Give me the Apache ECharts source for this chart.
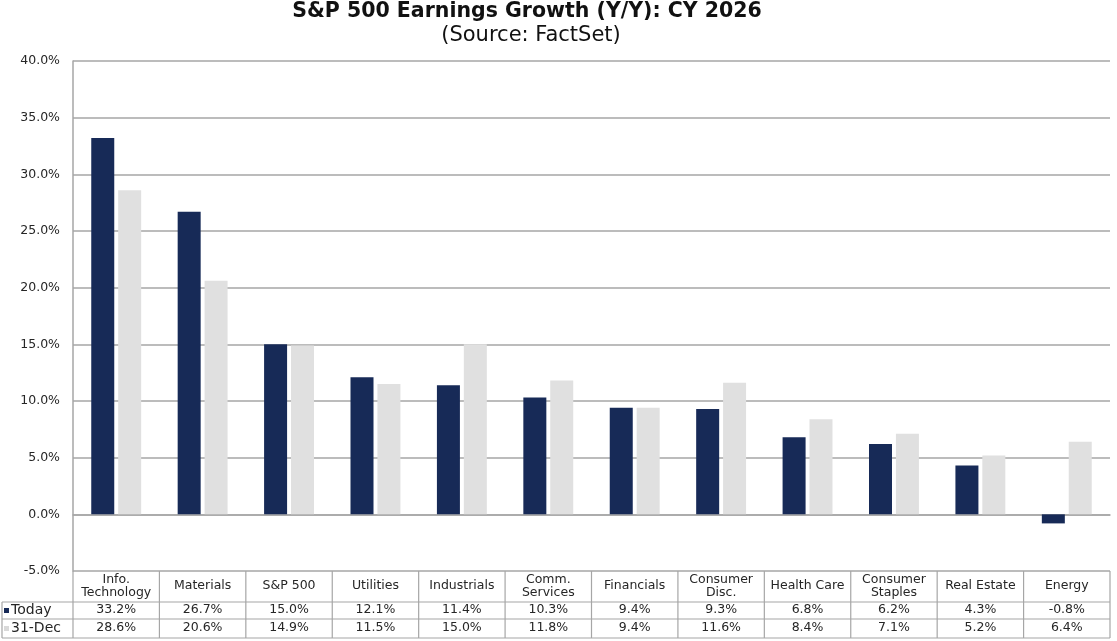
<!DOCTYPE html>
<html><head><meta charset="utf-8">
<script src="https://cdn.jsdelivr.net/npm/echarts@6/dist/echarts.min.js"></script>
<style>html,body{margin:0;padding:0;background:#fff}#c{width:1117px;height:641px}</style>
</head><body><div id="c"></div>
<script>
var categories = ['Info.\nTechnology','Materials','S&P 500','Utilities','Industrials','Comm.\nServices','Financials','Consumer\nDisc.','Health Care','Consumer\nStaples','Real Estate','Energy'];
var todayValues = [33.2, 26.7, 15.0, 12.1, 11.4, 10.3, 9.4, 9.3, 6.8, 6.2, 4.3, -0.8];
var decValues = [28.6, 20.6, 14.9, 11.5, 15.0, 11.8, 9.4, 11.6, 8.4, 7.1, 5.2, 6.4];
var seriesNames = ['Today', '31-Dec'];
var titleText = 'S&P 500 Earnings Growth (Y/Y): CY 2026';
var subtitleText = '(Source: FactSet)';
var yTicks = {min: -5, max: 40, interval: 5};

var NAVY = '#172a57', GRAY = '#e0e0e0', LINE = '#a6a6a6', TXT = '#262626';
var FONT = 'DejaVu Sans, Verdana, sans-serif';
var chart = echarts.init(document.getElementById('c'));
var G = {left: 73, right: 7, top: 61, bottom: 70};

function valAxis(vals, margin) {
  return {
    type: 'category', data: categories, position: 'bottom', gridIndex: 0,
    axisLine: {show: false}, axisTick: {show: false},
    axisLabel: {interval: 0, margin: margin, verticalAlign: 'middle', fontSize: 12.5, color: TXT, fontFamily: FONT,
      formatter: function (v, i) { return vals[i].toFixed(1) + '%'; }}
  };
}

chart.setOption({
  animation: false,
  grid: G,
  xAxis: [
    {
      type: 'category', data: categories, position: 'bottom',
      axisLine: {show: true, lineStyle: {color: LINE, width: 1.5}},
      axisTick: {show: false},
      axisLabel: {interval: 0, margin: 15, verticalAlign: 'middle', fontSize: 12.5, lineHeight: 13, color: TXT, fontFamily: FONT}
    },
    valAxis(todayValues, 39),
    valAxis(decValues, 57)
  ],
  yAxis: {
    type: 'value', min: yTicks.min, max: yTicks.max, interval: yTicks.interval,
    axisLine: {show: true, lineStyle: {color: LINE, width: 1.5}},
    axisTick: {show: false},
    splitLine: {lineStyle: {color: LINE, width: 1.5}},
    axisLabel: {margin: 13, fontSize: 12.5, color: TXT, fontFamily: FONT,
      formatter: function (v) { return v.toFixed(1) + '%'; }}
  },
  series: [
    {name: seriesNames[0], type: 'bar', data: todayValues, barWidth: 23, barGap: '17%', itemStyle: {color: NAVY}},
    {name: seriesNames[1], type: 'bar', data: decValues, barWidth: 23, itemStyle: {color: GRAY}}
  ]
});

// title + data-table frame
(function () {
  var n = categories.length;
  var x0 = chart.convertToPixel({xAxisIndex: 0}, 0);
  var x1 = chart.convertToPixel({xAxisIndex: 0}, 1);
  var band = x1 - x0;
  var left = x0 - band / 2, right = left + band * n;
  var top = chart.convertToPixel({yAxisIndex: 0}, yTicks.min);
  var r1 = top + 31, r2 = top + 48, bot = top + 67, outerL = 2;
  var els = [];
  els.push({type: 'text', x: 527, y: 12, style: {text: titleText, fontSize: 20.5, fontWeight: 'bold', fill: '#111', fontFamily: FONT, align: 'center', verticalAlign: 'middle'}, silent: true});
  els.push({type: 'text', x: 531, y: 36, style: {text: subtitleText, fontSize: 21, fill: '#111', fontFamily: FONT, align: 'center', verticalAlign: 'middle'}, silent: true});
  var ls = {stroke: LINE, lineWidth: 1.2};
  function ln(a, b, c, d) { els.push({type: 'line', shape: {x1: a, y1: b, x2: c, y2: d}, style: ls, silent: true}); }
  for (var i = 0; i <= n; i++) ln(left + i * band, top, left + i * band, bot);
  ln(outerL, r1, right, r1);
  ln(outerL, r2, right, r2);
  ln(outerL, bot, right, bot);
  ln(outerL, r1, outerL, bot);
  var rows = [[r1, r2, NAVY], [r2, bot, '#d9d9d9']];
  rows.forEach(function (r, k) {
    var cy = (r[0] + r[1]) / 2;
    els.push({type: 'rect', shape: {x: 4, y: cy - 2.5, width: 5, height: 5}, style: {fill: r[2]}, silent: true});
    els.push({type: 'text', x: 11, y: cy, style: {text: seriesNames[k], fontSize: 14, fill: TXT, fontFamily: FONT, verticalAlign: 'middle', align: 'left'}, silent: true});
  });
  chart.setOption({graphic: els});
})();
</script></body></html>
